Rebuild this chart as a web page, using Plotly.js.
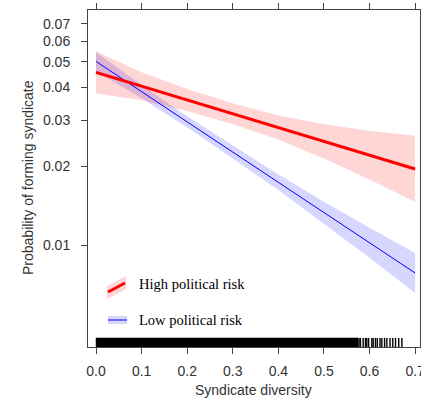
<!DOCTYPE html>
<html>
<head>
<meta charset="utf-8">
<script src="https://cdn.plot.ly/plotly-3.0.1.min.js"></script>
<style>html,body{margin:0;padding:0;background:#fff;}#chart{width:421px;height:400px;}</style>
</head>
<body>
<div id="chart"></div>
<script>
// ---- data ----
var diversity = [0.0, 0.1, 0.2, 0.3, 0.4, 0.5, 0.6, 0.7];

var highRisk      = [0.0456, 0.0404, 0.0358, 0.0317, 0.0281, 0.0249, 0.0220, 0.0195];
var highRiskUpper = [0.0549, 0.0457, 0.0394, 0.0348, 0.0312, 0.0289, 0.0273, 0.0261];
var highRiskLower = [0.0379, 0.0357, 0.0325, 0.0289, 0.0253, 0.0214, 0.0178, 0.0146];

var lowRisk      = [0.0502, 0.0385, 0.0295, 0.0226, 0.01735, 0.0133, 0.0102, 0.00782];
var lowRiskUpper = [0.0545, 0.0407, 0.0310, 0.0240, 0.0186, 0.01464, 0.01163, 0.00932];
var lowRiskLower = [0.0461, 0.0363, 0.0281, 0.0214, 0.0162, 0.01207, 0.00894, 0.00656];

// rug of observed diversity values: dense span + sparse tail
var rugDense  = [0.0, 0.575];
var rugSparse = [0.577, 0.580, 0.586, 0.591, 0.594, 0.598, 0.605, 0.608, 0.613, 0.617,
                 0.623, 0.627, 0.633, 0.638, 0.645, 0.651, 0.657, 0.664, 0.671];

var xTicks = [0.0, 0.1, 0.2, 0.3, 0.4, 0.5, 0.6, 0.7];
var xTickText = ["0.0", "0.1", "0.2", "0.3", "0.4", "0.5", "0.6", "0.7"];
var yTicks = [0.01, 0.02, 0.03, 0.04, 0.05, 0.06, 0.07];
var yTickText = ["0.01", "0.02", "0.03", "0.04", "0.05", "0.06", "0.07"];

var seriesNames = ["High political risk", "Low political risk"];

// ---- styles ----
var RED = "#ff0000", PINK = "rgba(255,0,0,0.16)";
var BLUE = "#0000ff", LBLUE = "rgba(0,0,255,0.16)";
var AXC = "#444444";

function band(x, lo, hi, color) {
  return {
    x: x.concat(x.slice().reverse()),
    y: hi.concat(lo.slice().reverse()),
    type: "scatter", mode: "lines", fill: "toself", fillcolor: color,
    line: {width: 0}, hoverinfo: "skip", showlegend: false
  };
}

var RUG_H = 0.027;
var rugX = [], rugY = [];
rugSparse.forEach(function (v) { rugX.push(v, v, null); rugY.push(0, RUG_H, null); });

var traces = [
  band(diversity, lowRiskLower, lowRiskUpper, LBLUE),
  band(diversity, highRiskLower, highRiskUpper, PINK),
  {x: diversity, y: lowRisk, type: "scatter", mode: "lines", line: {color: BLUE, width: 1}, showlegend: false},
  {x: diversity, y: highRisk, type: "scatter", mode: "lines", line: {color: RED, width: 3}, showlegend: false},
  {x: [rugDense[0], rugDense[1], rugDense[1], rugDense[0], rugDense[0]],
   y: [0, 0, RUG_H, RUG_H, 0], yaxis: "y2", type: "scatter", mode: "lines",
   fill: "toself", fillcolor: "#000", line: {color: "#000", width: 0.5}, showlegend: false},
  {x: rugX, y: rugY, yaxis: "y2", type: "scatter", mode: "lines",
   line: {color: "#000", width: 1.4}, showlegend: false}
];

var W = 421, H = 400, ML = 88, MR = 1, MT = 10, MB = 53;
var PW = W - ML - MR, PH = H - MT - MB;
function px(x) { return (x - ML) / PW; }
function py(y) { return (H - MB - y) / PH; }

var shapes = [
  // legend swatches
  {type: "path", xref: "paper", yref: "paper",
   path: "M" + px(107) + "," + py(299) + " L" + px(126) + "," + py(289) +
         " L" + px(126) + "," + py(276) + " L" + px(107) + "," + py(286) + " Z",
   fillcolor: PINK, line: {width: 0}},
  {type: "line", xref: "paper", yref: "paper", x0: px(108), y0: py(292), x1: px(125), y1: py(283),
   line: {color: RED, width: 3}},
  {type: "rect", xref: "paper", yref: "paper", x0: px(108), y0: py(324), x1: px(127), y1: py(316),
   fillcolor: LBLUE, line: {width: 0}},
  {type: "line", xref: "paper", yref: "paper", x0: px(108), y0: py(320), x1: px(127), y1: py(320),
   line: {color: BLUE, width: 1}}
];

var serif = "Liberation Serif, Times New Roman, serif";
var sans = "Liberation Sans, Arial, sans-serif";
var annotations = [
  {text: seriesNames[0], xref: "paper", yref: "paper", x: px(137), y: py(284), xanchor: "left", yanchor: "middle",
   showarrow: false, font: {family: serif, size: 14.5, color: "#000"}},
  {text: seriesNames[1], xref: "paper", yref: "paper", x: px(137), y: py(320), xanchor: "left", yanchor: "middle",
   showarrow: false, font: {family: serif, size: 14.5, color: "#000"}},
  {text: "Probability of forming syndicate", xref: "paper", yref: "paper", x: px(27.5), y: py(177.5),
   xanchor: "center", yanchor: "middle", textangle: -90, showarrow: false,
   font: {family: sans, size: 14, color: "#333"}},
  {text: "Syndicate diversity", xref: "paper", yref: "paper", x: px(253.5), y: py(390),
   xanchor: "center", yanchor: "middle", showarrow: false,
   font: {family: sans, size: 14, color: "#333"}}
];

var layout = {
  width: W, height: H,
  margin: {l: ML, r: MR, t: MT, b: MB, pad: 0},
  paper_bgcolor: "#fff", plot_bgcolor: "#fff",
  showlegend: false,
  font: {family: sans, size: 14, color: "#333"},
  xaxis: {
    range: [-0.0176, 0.7107], tickvals: xTicks, ticktext: xTickText,
    showgrid: false, zeroline: false, showline: true, linecolor: AXC, linewidth: 1,
    mirror: "ticks", ticks: "outside", ticklen: 6, tickcolor: AXC, tickwidth: 1,
    ticklabelstandoff: 5, ticklabeloverflow: "allow",
    tickfont: {family: sans, size: 14, color: "#333"}
  },
  yaxis: {
    type: "log", range: [Math.log10(0.00408), Math.log10(0.0789)],
    tickvals: yTicks, ticktext: yTickText,
    showgrid: false, zeroline: false, showline: true, linecolor: AXC, linewidth: 1,
    mirror: "ticks", ticks: "outside", ticklen: 6, tickcolor: AXC, tickwidth: 1,
    ticklabelstandoff: 8, ticklabeloverflow: "allow",
    tickfont: {family: sans, size: 14, color: "#333"}
  },
  yaxis2: {overlaying: "y", range: [0, 1], visible: false, fixedrange: true},
  shapes: shapes,
  annotations: annotations
};

Plotly.newPlot("chart", traces, layout, {displayModeBar: false, staticPlot: true});
</script>
</body>
</html>
